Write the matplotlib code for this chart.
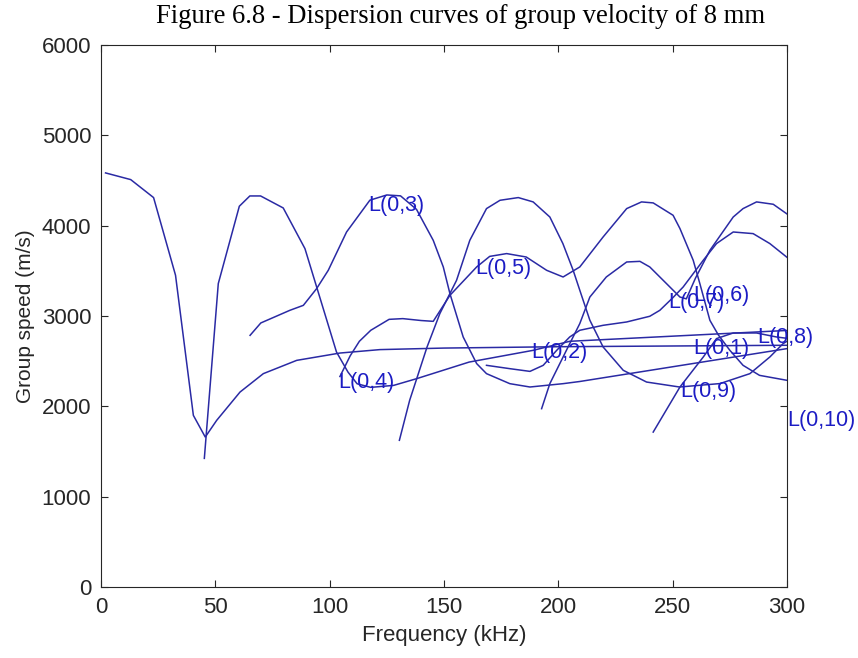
import matplotlib.pyplot as plt

# group velocity curves (frequency in kHz, speed in m/s)
f_l01 = [2, 13, 23, 32.6, 40.4, 45.6, 50.6, 60.8, 71, 85.6, 104.5, 122, 150, 200, 250, 300]
v_l01 = [4584, 4510, 4311, 3451, 1900, 1660, 1845, 2158, 2362, 2509, 2590, 2628, 2645, 2660, 2668, 2676]

f_l02 = [45.2, 51.3, 60.5, 65.1, 69.8, 79.7, 89.2, 103, 108, 112, 118, 128, 138, 161, 189, 205, 300]
v_l02 = [1424, 3359, 4215, 4329, 4329, 4196, 3746, 2601, 2380, 2250, 2210, 2232, 2306, 2490, 2620, 2720, 2840]

f_l03 = [65.2, 69.9, 82.6, 88.5, 94.3, 99.4, 107.4, 117.6, 125, 131, 138, 145.3, 149.7,
         152.6, 158.4, 164.3, 168.6, 178.8, 187.6, 202.1, 209.4, 300]
v_l03 = [2786, 2923, 3063, 3118, 3303, 3506, 3930, 4282, 4340, 4330, 4180, 3838, 3543,
         3248, 2768, 2473, 2362, 2251, 2214, 2251, 2275, 2639]

f_l04 = [104.5, 109, 113, 118, 126, 132, 140, 145.3, 152.6, 164.3, 170, 177.4, 186, 194.9,
         202.1, 209.4, 219.6, 229.9, 236.4, 241.5, 250.2, 253.2, 259, 261.9, 266.3, 270,
         275, 280.8, 288, 300]
v_l04 = [2330, 2560, 2720, 2842, 2963, 2971, 2950, 2941, 3229, 3543, 3660, 3691, 3653, 3506,
         3432, 3543, 3875, 4189, 4263, 4252, 4115, 3968, 3617, 3359, 2952, 2790,
         2621, 2454, 2343, 2288]

f_l05 = [130.5, 135, 142.6, 148.2, 155.5, 161.3, 168.6, 174.5, 182.5, 189, 196.3, 202, 206.5,
         209.4, 213.8, 219.6, 228.4, 238.6, 253, 270.7, 283.8, 292.5, 298.3, 300]
v_l05 = [1624, 2067, 2657, 3027, 3395, 3838, 4189, 4281, 4311, 4263, 4096, 3802, 3506,
         3285, 2953, 2657, 2399, 2269, 2214, 2252, 2362, 2546, 2694, 2720]

f_l06 = [192.7, 196.3, 205, 209.4, 213.8, 221, 229.9, 235.7, 240, 247.3, 253.2, 256,
         260, 266.3, 276.5, 280.8, 286.7, 294, 300]
v_l06 = [1974, 2251, 2694, 2916, 3210, 3432, 3598, 3605, 3543, 3359, 3210, 3190,
         3420, 3727, 4096, 4189, 4263, 4237, 4130]

f_l07 = [168.6, 178.8, 187.6, 193.4, 199.3, 205, 209.4, 219.6, 229.9, 240, 244.4, 250,
         254.6, 263.4, 269.2, 276.5, 285.2, 292.5, 300]
v_l07 = [2454, 2417, 2387, 2454, 2620, 2768, 2842, 2897, 2934, 2997, 3063, 3200,
         3321, 3617, 3802, 3930, 3912, 3802, 3650]

f_l09 = [241.5, 253.2, 263.4, 269.2, 276.5, 286.7, 295.4, 300]
v_l09 = [1715, 2214, 2546, 2750, 2812, 2812, 2768, 2753]

curves = [(f_l01, v_l01), (f_l02, v_l02), (f_l03, v_l03), (f_l04, v_l04), (f_l05, v_l05),
          (f_l06, v_l06), (f_l07, v_l07), (f_l09, v_l09)]

# mode labels and where they sit
label_text = ['L(0,1)', 'L(0,2)', 'L(0,3)', 'L(0,4)', 'L(0,5)',
              'L(0,6)', 'L(0,7)', 'L(0,8)', 'L(0,9)', 'L(0,10)']
label_f = [258.9, 188, 116.7, 103.6, 163.5, 258.9, 247.9, 286.8, 253.2, 300]
label_v = [2642, 2600, 4225, 2266, 3527, 3230, 3150, 2764, 2166, 1845]

xticks = [0, 50, 100, 150, 200, 250, 300]
yticks = [0, 1000, 2000, 3000, 4000, 5000, 6000]

plt.rcParams['font.family'] = ['Liberation Sans', 'DejaVu Sans']

fig = plt.figure(figsize=(8.58, 6.58), dpi=100)
ax = fig.add_axes([0.1177, 0.1079, 0.7995, 0.8237])

line_col = '#2a2aa4'
for f, v in curves:
    ax.plot(f, v, color=line_col, linewidth=1.1)

for txt, x, y in zip(label_text, label_f, label_v):
    ax.text(x, y, txt, color='#1c1cc4', fontsize=15.5, ha='left', va='center', clip_on=False)

ax.set_xlim(0, 300)
ax.set_ylim(0, 6000)
ax.set_xticks(xticks)
ax.set_yticks(yticks)
ax.tick_params(direction='in', top=True, right=True, labelsize=16, colors='#262626',
               length=5, width=0.8, pad=7)
for s in ax.spines.values():
    s.set_color('#262626')
    s.set_linewidth(0.8)

ax.set_xlabel('Frequency (kHz)', fontsize=16, color='#262626', labelpad=5)
ax.set_ylabel('Group speed (m/s)', fontsize=15, color='#262626', labelpad=5)
fig.text(0.537, 0.975, 'Figure 6.8 - Dispersion curves of group velocity of 8 mm',
         family='Liberation Serif', fontsize=19.2, ha='center', va='center', color='black')

fig.savefig('out.png', dpi=100)
